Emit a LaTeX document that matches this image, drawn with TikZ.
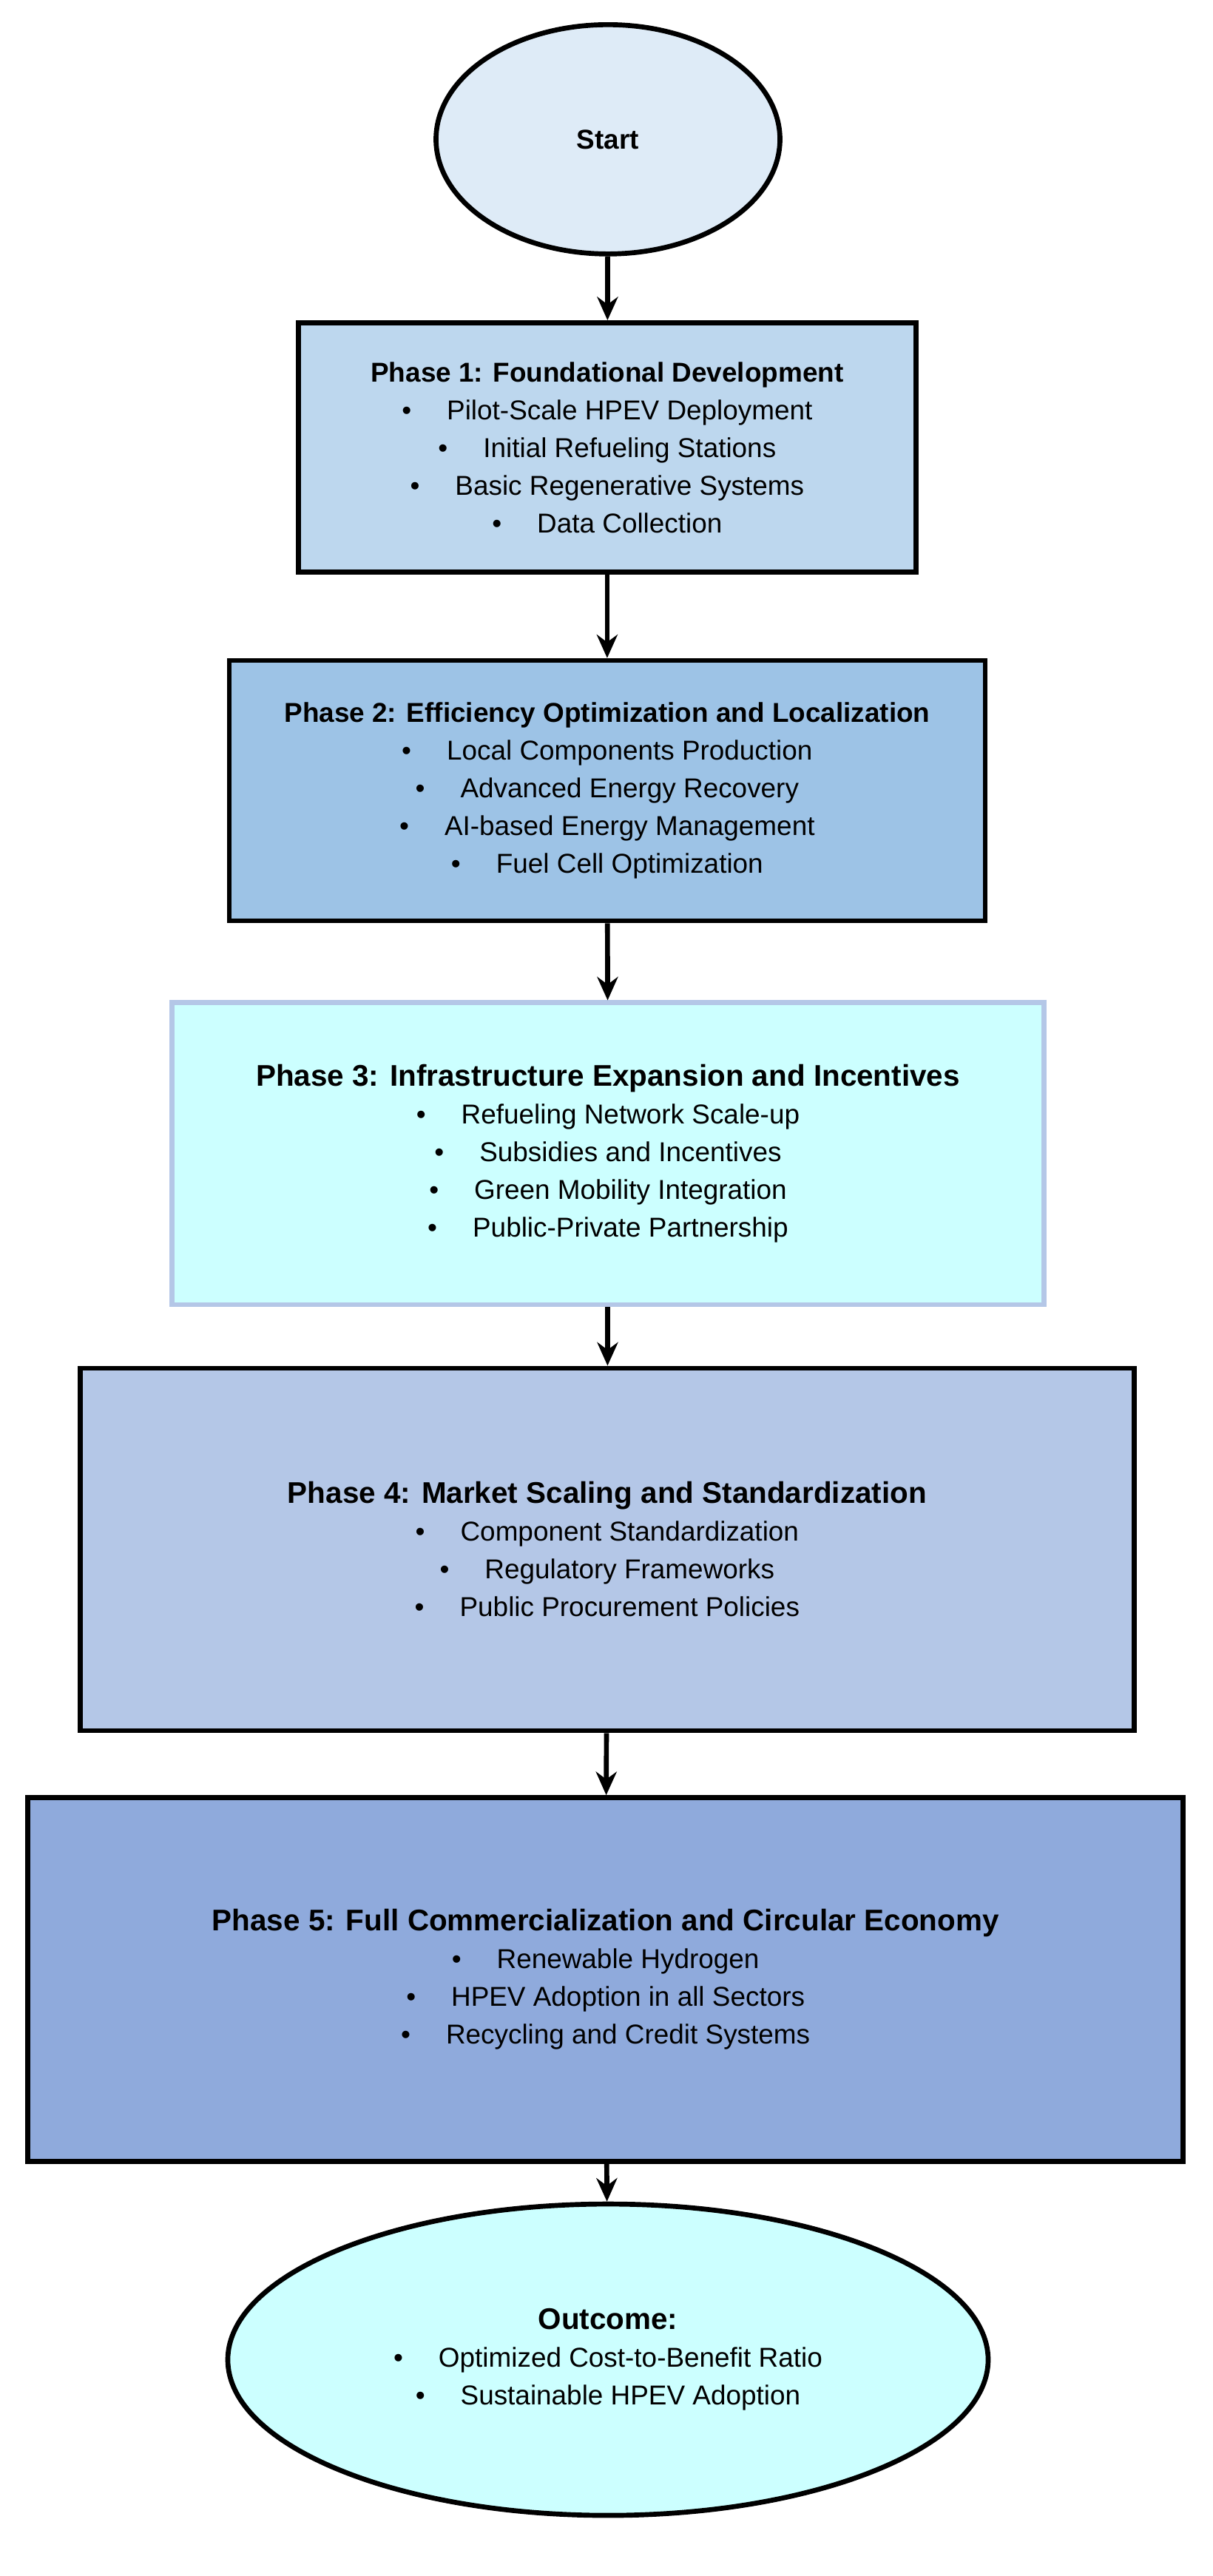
\documentclass[tikz,border=0pt]{standalone}
\usepackage{fontspec}
\setmainfont{Liberation Sans}
\usetikzlibrary{arrows.meta,shapes.geometric}
\definecolor{colorstart}{RGB}{222,235,247}
\definecolor{colorone}  {RGB}{189,215,238}
\definecolor{colortwo}  {RGB}{157,195,230}
\definecolor{colorthree}{RGB}{204,255,255}
\definecolor{colorfour} {RGB}{180,199,231}
\definecolor{colorfive} {RGB}{143,170,220}
\definecolor{colorline} {RGB}{180,199,231}
\newcommand{\itm}[1]{\textbullet\hspace{1.3em}#1}

\begin{document}
\begin{tikzpicture}[
    x=0.02216cm, y=-0.02216cm,
    font={\fontsize{10.5}{14.5}\selectfont},
    phase/.style={rectangle,draw=black,line width=1.9pt,align=center,inner sep=2pt},
    terminal/.style={ellipse,draw=black,line width=1.9pt,align=center,inner sep=0pt},
    flow/.style={-{Stealth[length=9pt,width=8pt]},line width=1.9pt},
]
    \useasboundingbox (0,0) rectangle (740,1572);

    % Start and phases
    \node[terminal, fill=colorstart, minimum width=4.65cm, minimum height=3.10cm] (start) at (371,85) {\textbf{Start}};
    \node[phase, fill=colorone, minimum width=8.35cm, minimum height=3.37cm] (p1) at (370.5,273)
        {\textbf{Phase 1: Foundational Development}\\ \itm{Pilot-Scale HPEV Deployment}\\ \itm{Initial Refueling Stations}\\ \itm{Basic Regenerative Systems}\\ \itm{Data Collection}};
    \node[phase, fill=colortwo, minimum width=10.22cm, minimum height=3.52cm] (p2) at (370.5,482.5)
        {\textbf{Phase 2: Efficiency Optimization and Localization}\\ \itm{Local Components Production}\\ \itm{Advanced Energy Recovery}\\ \itm{AI-based Energy Management}\\ \itm{Fuel Cell Optimization}};
    \node[phase, fill=colorthree, draw=colorline, minimum width=11.79cm, minimum height=4.08cm] (p3) at (371,704)
        {\textbf{\fontsize{11.5}{14.5}\selectfont Phase 3: Infrastructure Expansion and Incentives}\\ \itm{Refueling Network Scale-up}\\ \itm{Subsidies and Incentives}\\ \itm{Green Mobility Integration}\\ \itm{Public-Private Partnership}};
    \node[phase, fill=colorfour, minimum width=14.25cm, minimum height=4.90cm] (p4) at (370.5,945.5)
        {\textbf{\fontsize{11.5}{14.5}\selectfont Phase 4: Market Scaling and Standardization}\\ \itm{Component Standardization}\\ \itm{Regulatory Frameworks}\\ \itm{Public Procurement Policies}};
    \node[phase, fill=colorfive, minimum width=15.62cm, minimum height=4.92cm] (p5) at (369.5,1208)
        {\textbf{\fontsize{11.5}{14.5}\selectfont Phase 5: Full Commercialization and Circular Economy}\\ \itm{Renewable Hydrogen}\\ \itm{HPEV Adoption in all Sectors}\\ \itm{Recycling and Credit Systems}};
    \node[terminal, fill=colorthree, minimum width=10.28cm, minimum height=4.21cm] (outcome) at (371,1440)
        {\textbf{\fontsize{11.5}{14.5}\selectfont Outcome:}\\ \itm{Optimized Cost-to-Benefit Ratio}\\ \itm{Sustainable HPEV Adoption}};

    % Connectors
    \draw[flow] (start) -- (p1);
    \draw[flow] (p1) -- (p2);
    \draw[flow] (p2) -- (p3);
    \draw[flow] (p3) -- (p4);
    \draw[flow] (p4) -- (p5);
    \draw[flow] (p5) -- (outcome);

\end{tikzpicture}
\end{document}
